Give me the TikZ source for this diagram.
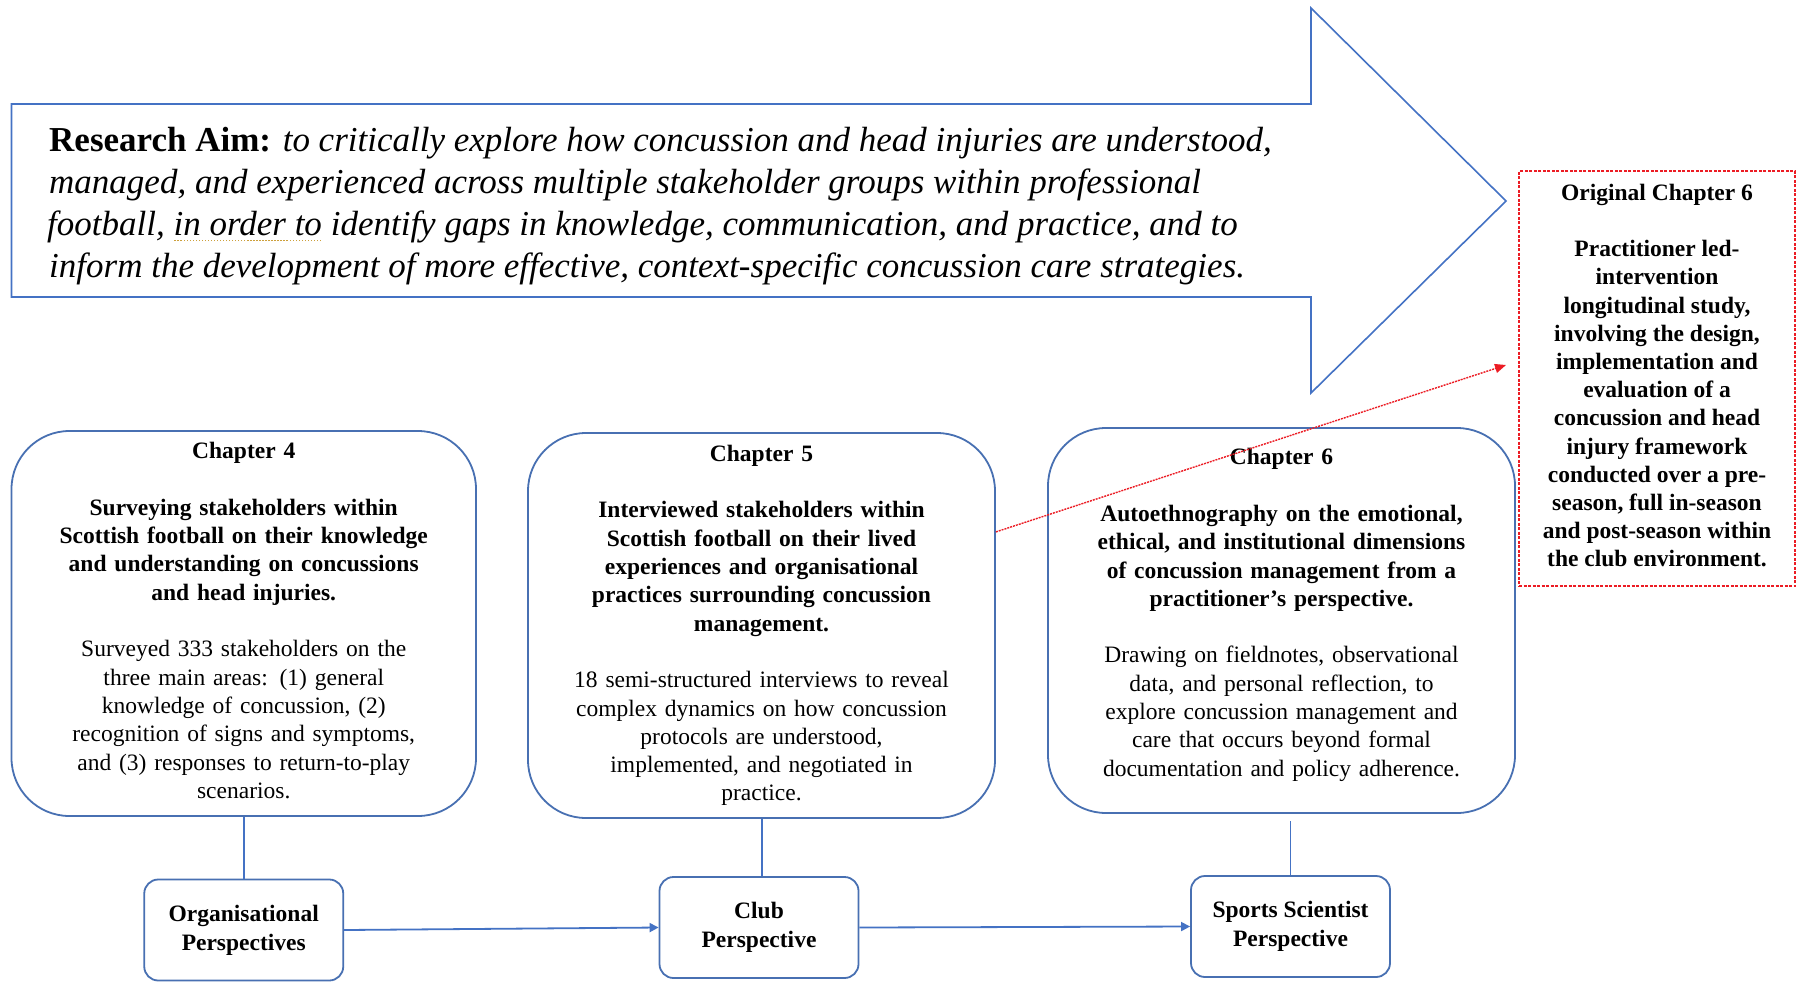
\documentclass[tikz,border=0pt]{standalone}
\usepackage{fontspec}
\setmainfont{Liberation Serif}
\usetikzlibrary{arrows.meta,calc}
\definecolor{boxblue}{RGB}{72,112,178}
\definecolor{lineblue}{RGB}{68,114,196}
\definecolor{aimred}{RGB}{236,28,36}
\definecolor{dotc}{RGB}{205,160,60}
\newsavebox\myulbox
\newcommand\mydotund[1]{\sbox\myulbox{#1}\leavevmode\rlap{\raisebox{-6pt}{\textcolor{dotc}{\hbox to \wd\myulbox{\xleaders\hbox to 3pt{\hss\rule{1.4pt}{1.4pt}\hss}\hfill}}}}\usebox\myulbox}
\begin{document}
\begin{tikzpicture}[x=1pt,y=-1pt,
  aimtext/.style={anchor=base west,inner sep=0pt,font=\fontsize{35}{42}\selectfont\itshape},
  chapbox/.style={draw=boxblue,line width=1.8pt,rounded corners=58pt,inner sep=0pt,
    minimum height=385pt,text width=440pt,align=center,
    font=\fontsize{23.5}{28.3}\selectfont},
  persbox/.style={draw=boxblue,line width=1.8pt,rounded corners=14pt,inner sep=0pt,
    minimum width=199pt,minimum height=101pt,align=center,
    font=\fontsize{23.5}{29}\selectfont\bfseries},
  redbox/.style={draw=aimred,line width=1.2pt,dash pattern=on 3pt off 1.5pt,inner sep=0pt,
    minimum width=276pt,minimum height=415pt,align=center,
    font=\fontsize{23.5}{28.2}\selectfont\bfseries},
  link/.style={draw=lineblue,line width=1.5pt},
  flow/.style={draw=lineblue,line width=1.8pt,-{Triangle[length=9pt,width=9pt]}},
  redarrow/.style={draw=aimred,line width=1.4pt,dash pattern=on 2pt off 1pt,-{Triangle[length=11pt,width=9pt]}}
]
\useasboundingbox (0,0) rectangle (1798,986);
\fill[white] (0,0) rectangle (1798,986);

% big arrow
\draw[draw=lineblue,line width=1.6pt,line join=miter]
  (11.5,104) -- (1311,104) -- (1311,8) -- (1506,201) -- (1311,393) -- (1311,297) -- (11.5,297) -- cycle;

\node[aimtext] (aim1) at (49,151) {{\upshape\bfseries Research Aim:} to critically explore how concussion and head injuries are understood,};
\node[aimtext] (aim2) at (49,193) {managed, and experienced across multiple stakeholder groups within professional};
\node[aimtext] (aim3) at (47,235) {football, \mydotund{in order to} identify gaps in knowledge, communication, and practice, and to};
\node[aimtext] (aim4) at (49,277) {inform the development of more effective, context-specific concussion care strategies.};

% red box
\node[redbox] (orig) at (1657,378.5) {Original Chapter 6\\[28.2pt]
Practitioner led-\\ intervention\\ longitudinal study,\\ involving the design,\\ implementation and\\ evaluation of a\\ concussion and head\\ injury framework\\ conducted over a pre-\\ season, full in-season\\ and post-season within\\ the club environment.\\[-22pt]\mbox{}};

% chapter boxes
\node[chapbox,minimum width=464.5pt] (ch4) at (243.75,623.5) {\textbf{Chapter 4}\\[28.3pt]
\textbf{Surveying stakeholders within}\\ \textbf{Scottish football on their knowledge}\\ \textbf{and understanding on concussions}\\ \textbf{and head injuries.}\\[28.3pt]
Surveyed 333 stakeholders on the\\ three main areas: (1) general\\ knowledge of concussion, (2)\\ recognition of signs and symptoms,\\ and (3) responses to return-to-play\\ scenarios.\\[-22pt]\mbox{}};

\node[chapbox,minimum width=467pt] (ch5) at (761.5,625.5) {\textbf{Chapter 5}\\[28.3pt]
\textbf{Interviewed stakeholders within}\\ \textbf{Scottish football on their lived}\\ \textbf{experiences and organisational}\\ \textbf{practices surrounding concussion}\\ \textbf{management.}\\[28.3pt]
18 semi-structured interviews to reveal\\ complex dynamics on how concussion\\ protocols are understood,\\ implemented, and negotiated in\\ practice.};

\node[chapbox,minimum width=467pt] (ch6) at (1281.5,620.5) {\textbf{Chapter 6}\\[28.3pt]
\textbf{Autoethnography on the emotional,}\\ \textbf{ethical, and institutional dimensions}\\ \textbf{of concussion management from a}\\ \textbf{practitioner’s perspective.}\\[28.3pt]
Drawing on fieldnotes, observational\\ data, and personal reflection, to\\ explore concussion management and\\ care that occurs beyond formal\\ documentation and policy adherence.\\[-12pt]\mbox{}};

% perspective boxes
\node[persbox] (org) at (243.75,930) {Organisational\\ Perspectives};
\node[persbox] (club) at (759,927.5) {Club\\ Perspective};
\node[persbox] (sports) at (1290.5,926.5) {Sports Scientist\\ Perspective};

% links
\draw[link] (ch4.south) -- (org.north);
\draw[link] (club.north) ++(3,0) -- ($(club.north |- ch5.south)+(3,0)$);
\coordinate (c6end) at ($(ch6.south)+(0,7)$);
\draw[link] (sports.north) -- (sports.north |- c6end);

\draw[flow] (org.east) -- (club.west);
\draw[flow] (club.east) -- (sports.west);

% red arrow
\coordinate (redstart) at ($(ch5.north east)!0.258!(ch5.south east)$);
\coordinate (redend) at (1506,365);
\draw[redarrow] (redstart) -- (redend);
\end{tikzpicture}
\end{document}
